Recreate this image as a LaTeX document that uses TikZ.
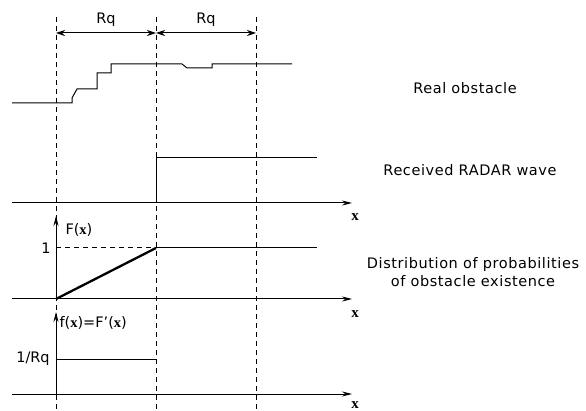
\documentclass[tikz,border=0pt]{standalone}
\usepackage{fontspec}
\setmainfont{DejaVu Sans}
\newfontfamily\xfont{Liberation Serif}
\newfontfamily\widefont[LetterSpace=4]{DejaVu Sans}
\usetikzlibrary{arrows.meta}
\begin{document}
\begin{tikzpicture}[x=1pt,y=-1pt,line width=1pt,
  guide/.style={dash pattern=on 5pt off 4pt,line width=1pt},
  axis/.style={-{Stealth[length=10pt,width=5pt]}},
  dimline/.style={{Stealth[length=9pt,width=6pt]}-{Stealth[length=9pt,width=6pt]}},
  lbl/.style={font=\fontsize{14.5}{16}\selectfont,inner sep=0pt},
  txt/.style={font=\fontsize{14.5}{18}\widefont,inner sep=0pt,align=center},
  xlbl/.style={font=\fontsize{15}{15}\selectfont\xfont\bfseries,inner sep=0pt},
  curve/.style={line width=1pt},
  ramp/.style={line width=2.3pt}]
\useasboundingbox (0,0) rectangle (586,411);
% guides
\foreach \n/\gx in {a/56,b/156,c/256}{
  \coordinate (\n t) at (\gx,17);
  \coordinate (\n b) at (\gx,411);
  \draw[guide] (\n t) -- (\n b);
}
% Rq dimensions
\coordinate (d1) at (56,33);
\coordinate (d2) at (156,33);
\coordinate (d3) at (256,33);
\draw[dimline] (d1) -- (d2);
\draw[dimline] (d2) -- (d3);
\node[lbl] (rq1) at (106,20) {Rq};
\node[lbl] (rq2) at (206,20) {Rq};
% real obstacle
\draw[curve] (12,103) -- (72,103) -- (72,98) -- (77,89) -- (97,89) -- (97,73)
  -- (111,73) -- (111,64) -- (182,64) -- (187,68) -- (212,68) -- (212,64) -- (292,64);
\node[txt] (real) at (465,88) {Real obstacle};
% radar wave
\coordinate (ax1l) at (12,203);
\coordinate (ax1r) at (352,203);
\draw[axis] (ax1l) -- (ax1r);
\node[xlbl] (x1) at (355,217) {x};
\draw[curve] (156,203) -- (156,158) -- (317,158);
\node[txt] (radar) at (470,170) {Received RADAR wave};
% distribution F
\coordinate (ax2l) at (12,299);
\coordinate (ax2r) at (352,299);
\coordinate (o2) at (56,299);
\coordinate (F1) at (156,248);
\coordinate (Fy) at (56,216);
\draw[axis] (ax2l) -- (ax2r);
\draw[axis] (o2) -- (Fy);
\node[xlbl] (x2) at (355,314) {x};
\node[lbl,anchor=west] (Flab) at (65,230) {F({\xfont\bfseries x})};
\node[lbl] (one) at (46,248) {1};
\draw[guide] (56,248) -- (F1);
\draw[ramp] (o2) -- (F1);
\draw[curve] (F1) -- (317,248);
\node[txt] (distr) at (473,272) {Distribution of probabilities\\of obstacle existence};
% density f
\coordinate (ax3l) at (12,394);
\coordinate (ax3r) at (352,394);
\coordinate (o3) at (56,394);
\coordinate (fy) at (56,312);
\draw[axis] (ax3l) -- (ax3r);
\draw[axis] (o3) -- (fy);
\node[xlbl] (x3) at (355,405) {x};
\node[lbl,anchor=west] (flab) at (59,323) {f({\xfont\bfseries x})=F'({\xfont\bfseries x})};
\node[lbl] (inv) at (33,359) {1/Rq};
\draw[curve] (56,359) -- (156,359);
\end{tikzpicture}
\end{document}
